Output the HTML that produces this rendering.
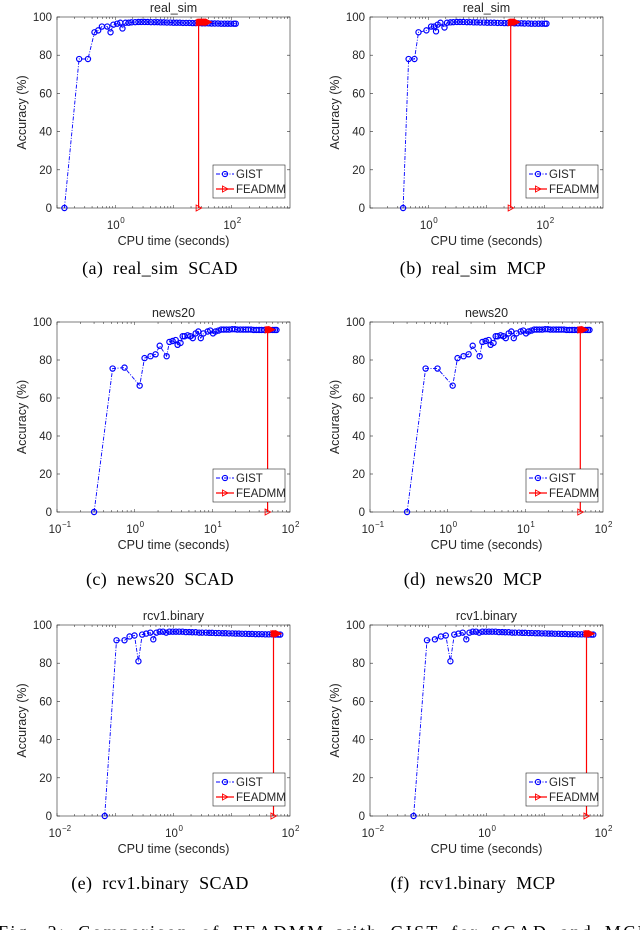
<!DOCTYPE html>
<html><head><meta charset="utf-8"><style>
html,body{margin:0;padding:0;background:#fff;}
svg{display:block;}
.t{font-family:"Liberation Sans",sans-serif;fill:#262626;}
.c{font-family:"Liberation Serif",serif;fill:#000;font-size:18px;word-spacing:5px;letter-spacing:0.4px;}
</style></head><body>
<svg id="fig" width="640" height="930" viewBox="0 0 640 930" xmlns="http://www.w3.org/2000/svg">
<text class="c" x="160" y="274" text-anchor="middle">(a) real_sim SCAD</text>
<text class="c" x="473" y="274" text-anchor="middle">(b) real_sim MCP</text>
<text class="c" x="160" y="585" text-anchor="middle">(c) news20 SCAD</text>
<text class="c" x="473" y="585" text-anchor="middle">(d) news20 MCP</text>
<text class="c" x="160" y="889" text-anchor="middle">(e) rcv1.binary SCAD</text>
<text class="c" x="473" y="889" text-anchor="middle">(f) rcv1.binary MCP</text>
<text class="c" x="-2" y="938" textLength="650">Fig. 2: Comparison of FEADMM with GIST for SCAD and MCP</text>
</svg>
<script>
// real_sim SCAD
const rsScadGistT=[0.134,0.24,0.34,0.44,0.51,0.59,0.73,0.83,0.93,1.08,1.22,1.33,1.5,1.7,1.9,2.2,2.5,2.8,3.2,3.6,4.1,4.7,5.3,6,6.8,7.7,8.8,10,11.3,12.8,14.5,16.5,18.7,21.2,24,27.3,31,35,40,45,51,58,66,75,85,96,109,117];
const rsScadGistA=[0,78,78,92,93,95,95,92,96,96.5,97,94,97,97,97.2,97.3,97.4,97.4,97.4,97.4,97.3,97.3,97.3,97.2,97.2,97.1,97.1,97,97,97,96.9,96.9,96.9,96.8,96.8,96.8,96.7,96.7,96.7,96.6,96.6,96.6,96.5,96.5,96.5,96.5,96.5,96.5];
const rsScadFeT=[27,27,28,29,30,31,32,33,34,35,36,37,38,39,40];
const rsScadFeA=[0,97,97.2,97.3,97.3,97.3,97.3,97.3,97.3,97.3,97.3,97.3,97.3,97.3,97.3];
// real_sim MCP
const rsMcpGistT=[0.37,0.46,0.58,0.68,0.93,1.12,1.26,1.36,1.45,1.62,1.9,2.1,2.4,2.7,3.1,3.5,4,4.6,5.2,6,6.8,7.8,9,10.3,11.8,13.5,15.5,17.7,20.3,23.2,26.5,30.3,34.7,39.7,45,52,59,68,78,89,100,107];
const rsMcpGistA=[0,78,78,92,93,95,95,92.5,96,97,94.5,97,97.2,97.3,97.4,97.4,97.4,97.3,97.3,97.2,97.2,97.1,97.1,97,97,97,96.9,96.9,96.8,96.8,96.8,96.7,96.7,96.7,96.6,96.6,96.5,96.5,96.5,96.5,96.5,96.5];
const rsMcpFeT=[26,26,27,28,29,30,31,32,33];
const rsMcpFeA=[0,97,97.2,97.3,97.3,97.3,97.3,97.3,97.3];
// news20 SCAD
const nwScadGistT=[0.3,0.52,0.74,1.16,1.34,1.6,1.86,2.1,2.58,2.8,3.08,3.37,3.57,3.9,4.15,4.4,4.8,5.2,5.6,6.1,6.6,7.1,7.7,8.7,9.4,10.2,11,12,13,14,15.2,16.5,18,19.5,21,23,25,27,29,31.5,34,37,40,43,47,51,55,60,64,67];
const nwScadGistA=[0,75.5,76,66.5,81,82,83,87.5,82,89.5,90,90.5,88,89,92.5,92.5,93,92.5,91.5,94,95,91.5,94,95,95.5,94,95,95.5,96,96,96,96,96.2,96.2,96,96,96,96,96,96,95.8,95.8,95.8,95.8,95.8,95.8,95.8,95.8,95.8,95.8];
const nwScadFeT=[51.5,51.5,53,55,57,58];
const nwScadFeA=[0,95.8,96,96,96,96];
// news20 MCP
const nwMcpGistT=[0.3,0.52,0.74,1.16,1.34,1.6,1.86,2.1,2.58,2.8,3.08,3.37,3.57,3.9,4.15,4.4,4.8,5.2,5.6,6.1,6.6,7.1,7.7,8.7,9.4,10.2,11,12,13,14,15.2,16.5,18,19.5,21,23,25,27,29,31.5,34,37,40,43,47,51,55,60,64,67];
const nwMcpGistA=[0,75.5,75.5,66.5,81,82,83,87.5,82,89.5,90,90.5,88,89,92.5,92.5,93,92.5,91.5,94,95,91.5,94,95,95.5,94,95,95.5,96,96,96,96,96.2,96.2,96,96,96,96,96,96,95.8,95.8,95.8,95.8,95.8,95.8,95.8,95.8,95.8,95.8];
const nwMcpFeT=[51,51,53,55,57,58];
const nwMcpFeA=[0,95.8,96,96,96,96];
// rcv1 SCAD
const rcScadGistT=[0.066,0.105,0.144,0.176,0.214,0.25,0.29,0.34,0.4,0.45,0.51,0.58,0.66,0.75,0.85,0.97,1.1,1.25,1.43,1.63,1.86,2.1,2.4,2.75,3.1,3.6,4.1,4.6,5.3,6,6.9,7.8,8.9,10.2,11.6,13.2,15,17.2,19.6,22.3,25.5,29,33,37.7,43,49,56,63,68];
const rcScadGistA=[0,92,92,94,94.5,81,95,95.5,96,92.5,96,96.5,96.5,96,96.5,96.5,96.5,96.5,96.5,96.3,96.3,96.2,96.2,96,96,96,95.9,95.9,95.8,95.8,95.7,95.7,95.6,95.6,95.5,95.5,95.4,95.4,95.3,95.3,95.2,95.2,95.2,95.1,95.1,95.1,95,95,95];
const rcScadFeT=[52,52,55,58,61,63];
const rcScadFeA=[0,95.5,95.5,95.5,95.5,95.5];
// rcv1 MCP
const rcMcpGistT=[0.056,0.095,0.13,0.165,0.2,0.24,0.28,0.33,0.39,0.45,0.51,0.58,0.66,0.75,0.85,0.97,1.1,1.25,1.43,1.63,1.86,2.1,2.4,2.75,3.1,3.6,4.1,4.6,5.3,6,6.9,7.8,8.9,10.2,11.6,13.2,15,17.2,19.6,22.3,25.5,29,33,37.7,43,49,56,63,68];
const rcMcpGistA=[0,92,92.5,94,94.5,81,95,95.5,96,92.5,96,96.5,96.5,96,96.5,96.5,96.5,96.5,96.5,96.3,96.3,96.2,96.2,96,96,96,95.9,95.9,95.8,95.8,95.7,95.7,95.6,95.6,95.5,95.5,95.4,95.4,95.3,95.3,95.2,95.2,95.2,95.1,95.1,95.1,95,95,95];
const rcMcpFeT=[52,52,55,58,61,63];
const rcMcpFeA=[0,95.5,95.5,95.5,95.5,95.5];
const yTicks=[0,20,40,60,80,100];

const NS="http://www.w3.org/2000/svg";
const svg=document.getElementById('fig');
function mk(tag,attrs,parent){const e=document.createElementNS(NS,tag);for(const k in attrs)e.setAttribute(k,attrs[k]);(parent||svg).appendChild(e);return e;}

function panel(name,title,ox,top,bot,xmin,xmax,labelExps,gT,gA,fT,fA){
  const g=mk('g',{});
  
  
  const L=57+ox,R=290+ox;
  const lmin=Math.log10(xmin),lmax=Math.log10(xmax);
  const xs=t=>L+(Math.log10(t)-lmin)/(lmax-lmin)*(R-L);
  const ys=v=>bot-v/100*(bot-top);
  const bg=mk('rect',{x:L,y:top,width:R-L,height:bot-top,fill:'#fff',stroke:'none'},g);
  
  
  for(const v of yTicks){
    const y=ys(v);
    mk('line',{x1:L,x2:L+3,y1:y,y2:y,stroke:'#262626','stroke-width':0.6},g);
    mk('line',{x1:R,x2:R-3,y1:y,y2:y,stroke:'#262626','stroke-width':0.6},g);
    const tl=mk('text',{class:'t',x:L-5,y:y+4,'font-size':11.5,'text-anchor':'end'},g);
    tl.textContent=v;
    
    
  }
  for(let e=Math.round(lmin);e<Math.round(lmax);e++){
    for(let m=1;m<10;m++){
      const x=xs(m*Math.pow(10,e));const len=m===1?3:2;
      mk('line',{x1:x,x2:x,y1:bot,y2:bot-len,stroke:'#262626','stroke-width':0.5},g);
      mk('line',{x1:x,x2:x,y1:top,y2:top+len,stroke:'#262626','stroke-width':0.5},g);
    }
  }
  for(const e of labelExps){
    const x=xs(Math.pow(10,e));
    const tl=mk('text',{class:'t',x:x-2,y:bot+21,'font-size':11.5,'text-anchor':'middle'},g);
    tl.textContent='10';
    
    
    const sp=mk('text',{class:'t',x:x+5,y:bot+15,'font-size':8},g);
    sp.textContent=String(e).replace('-','\u2212');
    
    
  }
  const fr=mk('rect',{x:L,y:top,width:R-L,height:bot-top,fill:'none',stroke:'#262626','stroke-width':0.6},g);
  
  
  const ti=mk('text',{class:'t',x:(L+R)/2,y:top-5,'font-size':12.5,'text-anchor':'middle',fill:'#000'},g);
  ti.textContent=title;
  
  
  const xl=mk('text',{class:'t',x:(L+R)/2,y:bot+37,'font-size':12.5,'text-anchor':'middle'},g);
  xl.textContent='CPU time (seconds)';
  
  
  const yc=(top+bot)/2;
  const yl=mk('text',{class:'t',x:ox+26,y:yc,'font-size':12.5,'text-anchor':'middle',transform:`rotate(-90 ${ox+26} ${yc})`},g);
  yl.textContent='Accuracy (%)';
  
  
  let d='';gT.forEach((t,i)=>{d+=(i?'L':'M')+xs(t).toFixed(1)+' '+ys(gA[i]).toFixed(1);});
  const gl=mk('path',{d:d,fill:'none',stroke:'#0000ff','stroke-width':0.9,'stroke-dasharray':'4 1.5 1 1.5'},g);
  
  
  gT.forEach((t,i)=>{
    const c=mk('circle',{cx:xs(t),cy:ys(gA[i]),r:2.6,fill:'none',stroke:'#0000ff','stroke-width':1.2},g);
    
    
  });
  let d2='';fT.forEach((t,i)=>{d2+=(i?'L':'M')+xs(t).toFixed(1)+' '+ys(fA[i]).toFixed(1);});
  const fl=mk('path',{d:d2,fill:'none',stroke:'#ff0000','stroke-width':1.2},g);
  
  
  fT.forEach((t,i)=>{
    const x=xs(t),y=ys(fA[i]);
    const p=mk('path',{d:`M${x-2.5} ${y-3}L${x+3} ${y}L${x-2.5} ${y+3}Z`,fill:i?'#ff0000':'none',stroke:'#ff0000','stroke-width':0.9},g);
    
    
  });
  const lg=mk('g',{},g);
  
  
  const lx=R-77,ly=bot-43;
  mk('rect',{x:lx,y:ly,width:72,height:33,fill:'#fff',stroke:'#262626','stroke-width':0.6},lg);
  mk('line',{x1:lx+3,x2:lx+21,y1:ly+9,y2:ly+9,stroke:'#0000ff','stroke-width':0.9,'stroke-dasharray':'4 1.5 1 1.5'},lg);
  mk('circle',{cx:lx+12,cy:ly+9,r:2.6,fill:'none',stroke:'#0000ff','stroke-width':1.1},lg);
  const e1=mk('text',{class:'t',x:lx+23,y:ly+13,'font-size':11.5,fill:'#000'},lg);
  e1.textContent='GIST';
  
  
  mk('line',{x1:lx+3,x2:lx+21,y1:ly+24,y2:ly+24,stroke:'#ff0000','stroke-width':1.2},lg);
  mk('path',{d:`M${lx+9.5} ${ly+21}L${lx+15} ${ly+24}L${lx+9.5} ${ly+27}Z`,fill:'none',stroke:'#ff0000','stroke-width':0.9},lg);
  const e2=mk('text',{class:'t',x:lx+23,y:ly+28,'font-size':11.5,fill:'#000'},lg);
  e2.textContent='FEADMM';
  
  
}
panel('chart-real-sim-scad','real_sim',0,17,208,0.1,1000,[0,2],rsScadGistT,rsScadGistA,rsScadFeT,rsScadFeA);
panel('chart-real-sim-mcp','real_sim',313,17,208,0.1,1000,[0,2],rsMcpGistT,rsMcpGistA,rsMcpFeT,rsMcpFeA);
panel('chart-news20-scad','news20',0,322,512,0.1,100,[-1,0,1,2],nwScadGistT,nwScadGistA,nwScadFeT,nwScadFeA);
panel('chart-news20-mcp','news20',313,322,512,0.1,100,[-1,0,1,2],nwMcpGistT,nwMcpGistA,nwMcpFeT,nwMcpFeA);
panel('chart-rcv1-scad','rcv1.binary',0,625,816,0.01,100,[-2,0,2],rcScadGistT,rcScadGistA,rcScadFeT,rcScadFeA);
panel('chart-rcv1-mcp','rcv1.binary',313,625,816,0.01,100,[-2,0,2],rcMcpGistT,rcMcpGistA,rcMcpFeT,rcMcpFeA);
</script>
</body></html>
